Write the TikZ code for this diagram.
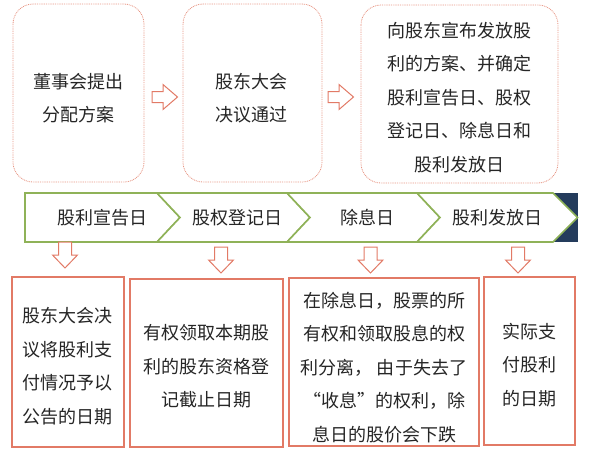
\documentclass[tikz,border=0pt]{standalone}
\usepackage{fontspec}
\newfontfamily\cjk{Noto Sans CJK SC}
\definecolor{boxred}{RGB}{226,122,102}
\definecolor{dotred}{RGB}{232,150,132}
\definecolor{chevgreen}{RGB}{143,178,88}
\definecolor{darknavy}{RGB}{36,60,92}
\definecolor{txt}{RGB}{38,38,38}
\newcommand\hdarrow[2]{\draw[hollowarr, shift={(#1,#2)}] (-6.5,0) -- (6.5,0) -- (6.5,13) -- (12.5,13) -- (0,26) -- (-12.5,13) -- (-6.5,13) -- cycle;}
\newcommand\hrarrow[2]{\draw[hollowarr, shift={(#1,#2)}] (0,-5.5) -- (11,-5.5) -- (11,-12.5) -- (25.5,0) -- (11,12.5) -- (11,5.5) -- (0,5.5) -- cycle;}
\tikzset{
  txtstyle/.style={font=\cjk\fontsize{18}{33.5}\selectfont, text=txt, align=center, inner sep=0pt},
  topbox/.style={draw=dotred, line width=0.8pt, dash pattern=on 0.9pt off 0.9pt, rounded corners=20pt, fill=white},
  botbox/.style={draw=boxred, line width=1.3pt, fill=white},
  chevron/.style={draw=chevgreen, line width=1.6pt, fill=white, line join=miter},
  hollowarr/.style={draw=boxred, line width=1pt, fill=white, line join=miter},
}
\begin{document}
\begin{tikzpicture}[x=1pt,y=-1pt]
\useasboundingbox (0,0) rectangle (590,459);
% top boxes
\draw[topbox] (13,4) rectangle (144,182);
\draw[topbox] (183,4) rectangle (322,182);
\draw[topbox] (361,5) rectangle (558,183);
\node[txtstyle] (t1) at (78.5,98) {董事会提出\\分配方案};
\node[txtstyle] (t2) at (251,98) {股东大会\\决议通过};
\node[txtstyle] (t3) at (459.5,97.5) {向股东宣布发放股\\利的方案、并确定\\股利宣告日、股权\\登记日、除息日和\\股利发放日};
\hrarrow{152}{97}
\hrarrow{328}{97}
% chevron band
\fill[darknavy] (553,193) rectangle (577.5,242);
\draw[chevron] (25,193) -- (157,193) -- (180,217.5) -- (157,242) -- (25,242) -- cycle;
\draw[chevron] (157,193) -- (287,193) -- (310,217.5) -- (287,242) -- (157,242) -- (180,217.5) -- cycle;
\draw[chevron] (287,193) -- (417,193) -- (440,217.5) -- (417,242) -- (287,242) -- (310,217.5) -- cycle;
\draw[chevron] (417,193) -- (553,193) -- (577.5,217.5) -- (553,242) -- (417,242) -- (440,217.5) -- cycle;
\node[txtstyle] (c1) at (102,217.5) {股利宣告日};
\node[txtstyle] (c2) at (237,217.5) {股权登记日};
\node[txtstyle] (c3) at (367,217.5) {除息日};
\node[txtstyle] (c4) at (497,217.5) {股利发放日};
% down arrows
\hdarrow{65}{242}
\hdarrow{221}{247}
\hdarrow{370.5}{247}
\hdarrow{518}{247}
% bottom boxes
\draw[botbox] (12,277) rectangle (124,447);
\draw[botbox] (130,279) rectangle (283,447);
\draw[botbox] (289,278) rectangle (479,446);
\draw[botbox] (484,277) rectangle (575,445);
\node[txtstyle] (b1) at (68,366) {股东大会决\\议将股利支\\付情况予以\\公告的日期};
\node[txtstyle] (b2) at (206.5,366.5) {有权领取本期股\\利的股东资格登\\记截止日期};
\node[txtstyle] (b3) at (384,367.5) {在除息日，股票的所\\有权和领取股息的权\\利分离， 由于失去了\\“收息”的权利，除\\息日的股价会下跌};
\node[txtstyle] (b4) at (529.5,365) {实际支\\付股利\\的日期};
\end{tikzpicture}
\end{document}
